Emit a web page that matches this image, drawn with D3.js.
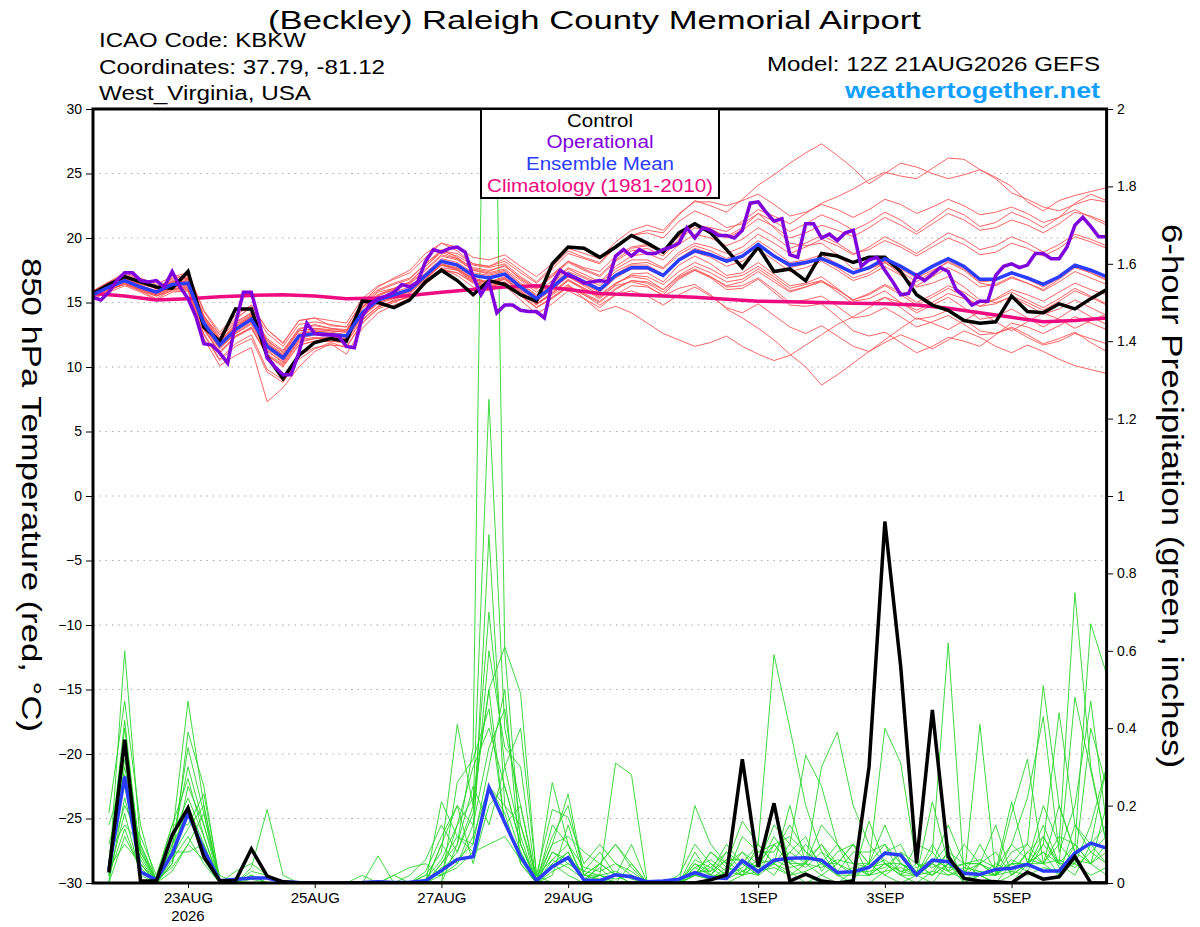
<!DOCTYPE html>
<html>
<head>
<meta charset="utf-8">
<title>KBKW GEFS 850 hPa temperature and precipitation</title>
<script src="https://cdn.jsdelivr.net/npm/d3@7.9.0/dist/d3.min.js"></script>
<style>
  body { margin: 0; background: #fff; }
  svg text { font-family: "Liberation Sans", Arial, Helvetica, sans-serif; }
</style>
</head>
<body>
<svg id="chart" width="1200" height="927"></svg>
<script>
// run start 12Z 21AUG2026; ensemble series are 6-hourly, operational is 3-hourly
const runStart = Date.UTC(2026, 7, 21, 12);
const HOUR = 3600 * 1000;

const tempTicks = [-30, -25, -20, -15, -10, -5, 0, 5, 10, 15, 20, 25, 30];
const precipTicks = [0, 0.2, 0.4, 0.6, 0.8, 1, 1.2, 1.4, 1.6, 1.8, 2];
const dateTicks = ["2026-08-23", "2026-08-25", "2026-08-27", "2026-08-29", "2026-09-01", "2026-09-03", "2026-09-05"];
const dateLabels = ["23AUG", "25AUG", "27AUG", "29AUG", "1SEP", "3SEP", "5SEP"];
const legendNames = ["Control", "Operational", "Ensemble Mean", "Climatology (1981-2010)"];

// 850 hPa temperature, deg C, every 6 h from 12Z 21 Aug
const controlTemp = [15.7,16.4,17.0,16.6,16.2,16.1,17.4,13.1,12.0,14.5,14.5,10.8,9.1,10.9,11.9,12.2,12.0,15.1,15.0,14.6,
  15.2,16.6,17.5,16.7,15.6,16.7,16.4,15.6,15.1,18.0,19.3,19.2,18.5,19.3,20.2,19.6,18.9,20.4,21.1,20.4,
  19.1,17.7,19.3,17.4,17.6,16.7,18.8,18.6,18.1,18.5,18.5,17.4,15.6,14.8,14.4,13.6,13.4,13.5,15.5,14.3,
  14.2,14.9,14.5,15.3,16.0];
const meanTemp = [15.6,16.2,16.7,16.2,15.8,16.4,16.5,13.4,11.7,12.9,13.7,11.6,10.7,12.4,12.6,12.5,12.4,14.2,15.2,15.6,
  16.0,17.1,18.2,17.9,17.1,16.9,17.2,16.2,15.3,16.2,17.2,16.6,16.0,17.1,17.7,17.7,17.1,18.3,19.0,18.7,
  18.2,18.6,19.5,18.6,17.9,18.1,18.4,17.9,17.3,17.7,18.4,17.8,17.1,17.8,18.4,17.8,16.8,16.8,17.3,16.9,
  16.4,17.0,17.9,17.5,17.0];
// operational, every 3 h
const operationalTemp = [15.4,15.2,15.8,16.7,17.3,17.3,16.7,16.6,16.7,16.2,
  17.4,16.2,15.3,13.9,11.8,11.7,11.1,10.3,13.4,15.8,
  15.8,13.5,10.7,10.0,9.4,9.4,11.1,13.4,12.6,12.5,
  12.5,12.4,11.6,11.5,13.9,14.9,15.3,15.5,15.8,16.4,
  16.2,16.6,18.2,19.1,18.9,19.2,19.3,18.9,17.0,15.6,
  16.6,14.2,14.8,14.8,14.4,14.3,14.3,13.8,16.5,17.5,
  17.1,16.9,16.5,16.6,16.7,16.6,18.6,19.1,18.6,19.1,
  18.8,18.8,19.1,19.3,19.6,20.8,20.0,20.8,20.6,20.2,
  20.2,20.0,20.6,22.7,22.8,22.0,21.3,21.5,18.7,18.5,
  21.1,21.1,20.0,20.3,19.8,20.4,20.6,17.8,18.3,18.5,
  17.5,16.6,15.6,15.7,17.1,16.7,17.2,17.7,17.4,16.0,
  15.5,14.8,15.1,15.1,17.1,17.8,18.0,17.7,17.9,18.8,
  18.8,18.4,18.4,19.3,21.0,21.6,20.9,20.1,20.1];
// climatology, every 12 h
const climoTemp = [15.7,15.5,15.2,15.3,15.45,15.55,15.6,15.5,15.3,15.35,15.55,15.8,16.0,16.2,16.3,16.0,15.7,
  15.6,15.5,15.4,15.25,15.1,15.05,15.0,14.95,14.9,14.8,14.55,14.2,13.85,13.5,13.6,13.8];

const memberTemps = [
  [15.8,16.5,17.2,16.8,16.0,16.9,17.1,14.0,12.2,13.5,14.2,12.0,11.2,12.9,13.3,13.0,12.8,14.8,15.9,16.4,16.8,18.0,19.1,18.5,17.6,17.4,17.9,16.8,16.0,17.0,18.1,17.5,17.0,18.2,19.0,19.2,18.6,19.9,20.8,20.5,20.0,20.6,21.5,20.9,20.0,20.4,21.0,20.6,20.1,20.8,21.6,21.0,20.3,21.1,21.9,21.4,20.6,20.8,21.4,21.0,20.4,21.1,22.0,21.7,21.2],
  [15.5,16.0,16.4,16.0,15.6,16.2,16.8,13.9,12.5,13.6,14.8,12.9,11.8,13.6,13.8,13.2,13.1,15.0,16.2,16.9,17.5,18.8,19.6,19.0,18.0,17.8,18.4,17.5,16.6,17.8,19.0,18.5,18.1,19.4,20.2,20.6,20.4,21.8,22.9,22.5,22.0,23.0,24.1,24.9,25.8,26.6,27.3,26.4,25.4,24.2,25.0,25.8,25.5,25.0,24.6,24.9,25.3,24.7,24.0,22.8,22.1,22.9,23.3,23.6,23.9],
  [15.7,16.3,16.8,16.4,16.1,16.6,16.9,13.7,12.0,13.1,14.0,11.9,11.0,12.8,13.0,12.8,12.7,14.6,15.8,16.1,16.6,17.8,18.9,18.4,17.7,17.5,17.8,16.9,16.1,17.2,18.2,17.7,17.4,18.6,19.3,19.5,19.0,20.1,21.0,20.8,20.5,21.3,22.2,21.7,21.1,21.9,22.7,23.2,23.8,24.5,25.1,24.8,24.6,25.4,26.2,26.1,25.3,24.6,23.5,23.0,22.4,22.1,22.6,23.0,22.8],
  [15.4,15.9,16.5,15.9,15.3,16.0,16.2,12.9,11.1,12.4,13.0,10.9,10.1,11.7,12.0,12.0,11.9,13.6,14.7,15.1,15.4,16.4,17.5,17.3,16.6,16.2,16.6,15.6,14.6,15.4,16.2,15.6,14.8,15.6,15.9,15.5,14.8,15.6,16.2,15.5,14.6,14.2,14.9,14.0,13.1,12.6,13.2,12.4,11.6,11.2,11.9,12.5,12.0,11.4,12.1,12.8,12.3,11.6,11.1,11.7,11.2,10.6,10.1,9.8,9.5],
  [15.6,16.1,16.6,16.1,15.7,16.3,16.4,13.2,11.5,12.6,13.4,11.3,10.3,12.0,12.2,12.2,12.1,13.9,15.0,15.4,15.8,16.9,18.0,17.6,16.8,16.5,16.9,15.9,14.9,15.8,16.8,16.1,15.4,16.3,16.6,16.3,15.5,16.1,16.4,15.6,14.5,13.8,13.0,12.1,11.0,10.0,8.6,9.4,10.3,11.2,12.1,13.0,13.8,13.4,12.9,13.6,14.3,13.5,12.8,13.5,14.2,13.7,13.0,13.6,14.1],
  [15.5,16.2,16.9,16.3,15.9,16.5,16.6,13.5,11.8,13.0,13.9,11.8,10.9,12.5,12.8,12.6,12.5,14.3,15.3,15.8,16.2,17.3,18.4,18.1,17.3,17.1,17.4,16.4,15.5,16.4,17.4,16.9,16.3,17.4,18.0,18.1,17.6,18.7,19.4,19.0,18.4,18.9,19.8,19.0,18.1,18.3,18.7,18.0,17.3,17.6,18.2,17.6,16.9,17.5,18.1,17.5,16.5,16.3,16.9,16.5,16.0,16.8,17.7,17.3,16.8],
  [15.9,16.6,17.0,16.4,15.5,15.9,15.9,12.2,10.1,10.9,11.5,7.3,8.4,10.0,11.2,11.8,11.0,13.0,14.2,14.8,15.3,16.5,17.6,17.1,16.2,15.9,16.3,15.2,14.1,14.9,15.9,15.3,14.6,15.6,16.3,16.2,15.6,16.8,17.5,17.0,16.3,16.6,17.4,16.6,15.8,16.2,16.6,16.0,15.2,15.7,16.4,15.8,15.0,15.6,16.3,15.8,15.0,15.2,15.8,15.2,14.6,15.3,16.1,15.5,14.9],
  [15.3,15.8,16.3,15.8,15.2,15.8,15.9,12.6,10.6,11.8,12.5,9.8,9.0,10.9,11.5,11.7,11.6,13.4,14.5,15.0,15.5,16.6,17.7,17.5,16.7,16.4,16.8,15.7,14.8,15.7,16.7,16.0,15.3,16.4,17.2,17.3,16.6,17.9,18.6,18.0,17.1,17.3,18.1,17.2,16.3,16.5,17.0,16.1,15.1,15.3,15.9,15.0,14.2,14.8,15.4,14.6,13.7,13.9,14.5,13.8,13.1,13.8,14.6,13.9,13.3],
  [15.8,16.4,17.1,16.6,16.2,16.8,17.2,14.3,12.5,13.8,14.6,12.6,11.6,13.3,13.5,13.3,13.1,15.0,16.0,16.5,16.9,18.0,19.0,18.6,17.9,17.7,18.0,17.0,16.2,17.1,18.2,17.6,17.1,18.3,19.2,19.4,18.9,20.2,21.0,20.7,20.1,20.8,21.9,21.3,20.5,21.1,21.8,21.3,20.6,21.2,22.0,21.4,20.5,21.4,22.3,21.8,20.9,21.2,22.0,21.5,20.8,21.6,22.7,23.4,22.9],
  [15.6,16.2,16.6,16.1,15.7,16.2,16.3,13.0,11.2,12.4,13.1,11.0,10.2,11.9,12.2,12.3,12.2,14.0,15.0,15.4,15.9,17.0,18.0,17.7,16.9,16.6,16.9,15.9,14.9,15.6,16.4,15.3,14.3,14.7,14.2,13.4,12.6,12.1,11.6,11.9,12.4,11.6,11.0,10.5,10.9,11.7,12.5,13.3,13.9,14.6,15.4,15.0,14.4,15.0,15.7,15.3,14.7,15.3,16.0,15.6,15.1,15.8,16.5,16.0,15.6],
  [15.7,16.3,16.9,16.5,16.1,16.7,16.9,13.9,12.3,13.4,14.2,12.2,11.3,13.0,13.2,13.0,12.9,14.7,15.6,16.0,16.4,17.5,18.6,18.3,17.5,17.3,17.6,16.7,15.8,16.7,17.7,17.2,16.6,17.8,18.6,18.8,18.3,19.5,20.3,20.0,19.4,19.9,20.8,20.1,19.2,19.6,20.2,19.6,18.8,19.1,19.8,19.3,18.6,19.3,20.0,19.5,18.7,18.9,19.6,19.2,18.6,19.2,20.1,19.7,19.2],
  [15.5,16.0,16.5,16.0,15.5,16.1,16.2,13.1,11.4,12.6,13.3,11.2,10.4,12.1,12.3,12.2,12.1,13.9,14.9,15.3,15.7,16.8,17.9,17.6,16.8,16.5,16.8,15.8,14.9,15.7,16.7,16.1,15.5,16.5,17.1,17.0,16.4,17.4,18.1,17.6,16.9,17.1,17.8,17.0,16.1,16.4,16.7,15.8,14.9,14.9,15.4,14.6,13.7,13.9,14.4,13.7,12.8,12.6,13.0,12.3,11.7,12.0,12.6,12.2,11.8],
  [15.6,16.3,16.8,16.3,15.9,16.5,16.7,13.6,11.9,13.1,13.9,11.8,10.8,12.5,12.8,12.7,12.5,14.3,15.2,15.6,16.0,17.1,18.2,17.9,17.1,16.9,17.2,16.2,15.3,16.2,17.2,16.6,16.0,17.2,17.9,17.9,17.2,18.4,19.2,18.8,18.1,18.5,19.4,18.6,17.7,18.0,18.4,17.7,16.9,17.3,18.1,17.4,16.6,17.4,18.2,17.6,16.6,16.7,17.3,16.8,16.2,16.9,17.8,17.3,16.7],
  [15.8,16.5,17.0,16.6,16.1,16.6,17.0,13.8,12.0,13.2,14.0,11.8,10.9,12.6,12.9,12.8,12.7,14.5,15.5,16.0,16.6,17.8,19.0,18.8,18.0,17.8,18.2,17.3,16.5,17.6,18.8,18.4,18.0,19.3,20.2,20.4,20.0,21.3,22.1,21.6,20.8,21.1,21.9,20.8,19.6,19.4,19.6,18.7,17.6,17.6,18.1,17.2,16.2,16.5,17.0,16.2,15.2,15.0,15.4,14.8,14.1,14.5,15.2,14.6,14.0],
  [15.5,16.1,16.6,16.0,15.6,16.2,16.3,13.2,11.5,12.7,13.5,11.4,10.5,12.2,12.5,12.4,12.3,14.1,15.1,15.5,15.9,16.9,17.9,17.5,16.6,16.3,16.6,15.6,14.6,15.4,16.3,15.7,15.1,16.1,16.7,16.5,15.8,16.9,17.5,16.9,16.0,16.1,16.8,15.8,14.8,14.7,14.9,13.9,12.8,12.4,12.7,11.9,11.1,11.6,12.3,12.0,11.6,12.5,13.4,13.1,12.6,13.2,13.9,13.4,12.9],
  [15.7,16.2,16.7,16.2,15.9,16.6,16.8,13.8,12.1,13.3,14.1,12.1,11.1,12.8,13.0,12.9,12.8,14.6,15.6,16.1,16.5,17.6,18.7,18.4,17.5,17.2,17.5,16.5,15.6,16.5,17.6,17.0,16.5,17.6,18.3,18.3,17.7,18.9,19.6,19.3,18.8,19.3,20.3,19.6,18.8,19.3,19.9,19.4,18.7,19.3,20.1,19.5,18.8,19.6,20.4,19.9,19.1,19.4,20.1,19.6,18.9,19.5,20.3,19.9,19.4],
  [15.6,16.3,16.9,16.3,15.7,16.1,16.0,12.5,10.5,11.6,12.2,9.6,8.8,10.6,11.4,11.9,11.5,13.4,14.6,15.2,15.7,16.8,17.9,17.6,16.8,16.6,17.0,16.0,15.1,16.0,17.0,16.4,15.8,16.9,17.6,17.6,17.0,18.2,18.9,18.5,17.8,18.2,19.1,18.3,17.4,17.7,18.2,17.5,16.7,17.1,17.8,17.1,16.3,17.0,17.7,17.1,16.2,16.4,17.0,16.5,15.9,16.6,17.4,16.9,16.4],
  [15.4,16.0,16.4,15.9,15.5,16.0,16.1,12.9,11.1,12.3,13.0,10.9,10.0,11.7,12.0,12.0,11.9,13.7,14.7,15.1,15.5,16.6,17.6,17.3,16.5,16.2,16.5,15.5,14.6,15.3,16.2,15.6,15.0,16.0,16.7,16.6,16.0,17.1,17.8,17.3,16.6,16.8,17.6,16.8,15.9,16.2,16.7,16.0,15.2,15.6,16.3,15.6,14.8,15.4,16.1,15.5,14.7,14.9,15.5,15.0,14.4,15.1,15.9,15.4,14.8],
  [15.9,16.6,17.3,16.9,16.4,17.0,17.3,14.4,12.7,14.0,14.8,12.9,11.9,13.6,13.8,13.6,13.4,15.3,16.3,16.8,17.3,18.5,19.6,19.3,18.5,18.3,18.7,17.8,17.0,18.0,19.2,18.8,18.4,19.7,20.6,21.0,20.6,21.9,22.8,22.8,22.5,22.9,23.4,22.6,21.7,22.0,22.6,22.2,21.6,22.2,23.0,22.6,21.9,22.4,23.0,22.5,21.8,22.0,22.4,21.9,21.2,21.6,22.2,21.6,21.0],
  [15.6,16.2,16.7,16.2,15.8,16.4,16.5,13.4,11.7,12.9,13.7,11.6,10.7,12.4,12.6,12.5,12.4,14.2,15.2,15.6,16.0,17.1,18.2,17.9,17.1,16.9,17.2,16.2,15.3,16.1,17.0,16.3,15.6,16.5,17.0,16.8,16.0,17.0,17.6,17.0,16.2,16.3,16.9,16.0,15.0,15.2,15.5,14.7,13.8,14.0,14.6,13.9,13.1,13.5,14.0,13.3,12.5,12.6,13.1,12.5,11.8,12.2,12.7,11.9,11.2]
];

// 6-hour precipitation, inches, periods ending 18Z 21 Aug .. 12Z 6 Sep
const controlPrecip = [0.027,0.37,0.005,0.005,0.124,0.194,0.068,0.006,0.006,0.088,0.018,0.003,0,0,0,0,0,0,0,0,
  0,0,0,0,0,0,0,0,0,0,0,0,0,0,0,0,0,0,0.008,0.021,
  0.32,0.042,0.206,0.005,0.023,0.005,0,0.005,0.30,0.934,0.559,0.051,0.447,0.068,0.012,0.005,0.003,0,0.028,0.01,
  0.016,0.068,0,0];
const meanPrecip = [0.034,0.275,0.029,0.008,0.075,0.18,0.085,0.006,0.01,0.013,0.013,0.003,0.001,0,0,0,0.001,0.003,0.001,0.002,
  0.006,0.032,0.061,0.068,0.247,0.156,0.068,0.006,0.042,0.066,0.008,0.006,0.021,0.016,0.003,0.005,0.01,0.027,0.014,0.012,
  0.058,0.029,0.059,0.064,0.065,0.059,0.027,0.029,0.04,0.077,0.072,0.021,0.059,0.055,0.025,0.022,0.035,0.038,0.048,0.031,
  0.031,0.077,0.103,0.09];
const memberPrecip = [
  [.02,.60,.10,0,.08,.20,.10,0, 0,.02,0,0,0,0,0,0, 0,0,0,0,0,.05,.10,.35, 3.20,.60,.10,0,.05,.02,0,0, 0,0,0,0,0,.02,.04,.01, .03,.02,.10,.05,.02,0,0,.01, .05,.10,.02,0,.03,.08,0,.02, 0,.02,.08,.12,.05,.02,.10,.30],
  [.18,.47,.15,0,.12,.47,.20,0, 0,0,0,0,0,0,0,0, 0,0,0,0,.02,.08,.41,.20, .50,.61,.49,.02,0,0,0,.02, .31,.28,0,0,0,0,0,0, .02,.05,.02,.08,.05,.02,0,.03, .05,.02,0,.02,.05,.10,0,.05, .02,.08,.10,.51,.20,.08,.05,.02],
  [.05,.42,.05,0,.05,.39,.25,0, .03,.05,.02,0,0,0,0,0, 0,.07,0,0,0,.21,.12,.10, .90,.20,.08,0,.26,.10,0,.05, .10,.05,0,0,0,.02,.08,.05, .16,.10,.05,.03,0,.02,.05,.10, .02,.05,.03,.02,0,.05,.02,.10, .03,.21,.05,.10,.44,.15,.08,.05],
  [0,.35,.08,0,.10,.30,.15,.02, 0,.04,.19,.02,0,0,0,0, .02,0,.02,0,0,0,.26,.32, .45,.15,.20,.01,.10,.23,.02,.05, .02,.10,0,0,0,.05,.02,.08, .05,.10,.59,.40,.20,.08,.02,0, 0,.03,.08,.02,.05,.03,.01,.02, 0,0,.05,.20,.10,.75,.30,.10],
  [.03,.30,.08,.01,.15,.27,.12,0, 0,.02,0,0,0,0,0,0, 0,0,0,.02,.06,.15,.08,.20, 1.25,.40,.20,0,.05,.08,0,.02, 0,0,0,0,0,.20,.10,.05, .08,.05,.15,.10,.33,.25,.10,.05, .05,.40,.31,.05,.02,.05,0,.02, 0,.05,.10,.05,.02,.10,.67,.54],
  [.10,.25,.05,0,.05,.20,.08,0, 0,.03,.02,0,0,0,0,0, 0,0,0,0,0,.10,.05,.15, .35,.45,.15,.02,.19,.17,.05,.10, .05,.02,0,0,.02,.10,.05,.02, .12,.08,.10,.05,.05,.30,.39,.20, .10,.05,.02,.10,.08,.62,.02,.05, .02,.05,.03,.10,.05,.48,.29,.10],
  [.06,.20,.12,.02,.15,.15,.23,.01, 0,0,0,0,0,0,0,0, 0,0,.02,.04,.05,.02,.15,.30, .40,.25,.10,0,.10,.12,.08,.05, .02,0,0,0,0,.05,.03,.10, .05,.02,.20,.05,.10,.05,.02,.02, .16,.05,.02,.02,.21,.05,.01,.41, .02,.10,.22,.43,.08,.20,.47,.15],
  [.02,.18,.02,0,.06,.12,.05,0, 0,.02,0,0,0,0,0,0, 0,0,0,0,.03,.12,.20,.05, .20,.25,.10,.01,.12,.20,.02,.02, 0,.05,0,0,.01,.02,.08,.04, .03,.05,.10,.12,.08,.05,.05,.10, .05,.15,.05,.02,.10,.03,.05,.02, .02,.18,.32,.05,.12,.10,.05,.08],
  [.08,.15,.10,.01,.04,.10,.18,0, 0,0,0,0,0,0,0,0, 0,0,0,0,0,.04,.06,.10, .30,.50,.05,0,.08,.05,.03,.08, .02,.02,0,0,0,.08,.02,.06, .02,.10,.05,.20,.05,.10,.05,.02, .02,.08,.10,.02,.05,.15,.05,.05, .03,.05,.05,.15,.05,.10,.05,.20],
  [0,.12,.04,0,.08,.08,.10,0, 0,0,0,0,0,0,0,0, 0,0,0,0,0,0,.10,.25, .15,.30,.40,.02,.06,.10,.04,.03, .05,.03,0,0,0,.02,.05,.02, .05,.02,.05,.02,.05,.15,.10,.05, .02,.05,.02,.05,.02,.08,.05,.05, .02,.05,.05,.05,.20,.08,.10,.15],
  [.04,.10,.05,0,.10,.18,.08,0, 0,0,0,0,0,0,0,0, 0,0,0,0,.02,.02,.05,.12, .25,.18,.05,0,.02,.15,.02,.05, .10,.04,0,0,0,.02,.01,.03, .08,.03,.05,.08,.12,.03,.08,.10, .05,.02,.05,.03,.05,.02,.03,.05, .08,.02,.05,.08,.02,.15,.10,.05],
  [.15,.28,.03,0,.05,.25,.15,0, 0,.01,0,0,0,0,0,0, 0,0,0,0,0,.10,.20,.15, .60,.35,.30,0,.04,.08,0,.01, .02,0,0,0,0,.04,.02,.02, .04,.08,.08,.15,.08,.05,.10,.02, .04,.05,.05,.02,.08,.03,.10,.05, .15,.02,.05,.08,.05,.05,.40,.25],
  [.03,.40,.07,0,.12,.22,.12,0, 0,0,0,0,0,0,0,0, 0,0,0,0,0,.03,.08,.18, .70,.30,.12,0,.15,.10,.01,.04, 0,0,0,0,0,.06,.04,.08, .03,.06,.05,.10,.06,.10,.03,.08, .08,.10,.05,.03,.02,.05,.03,.02, .05,.03,.08,.05,.10,.05,.15,.30],
  [0,.22,.06,0,.07,.14,.20,0, 0,0,0,0,0,0,0,0, 0,0,0,0,0,.05,.12,.08, .25,.20,.15,0,.08,.06,.03,.02, .01,.02,0,0,0,.03,.03,.06, .06,.04,.12,.06,.04,.08,.05,.03, .03,.04,.08,.05,.04,.06,.02,.03, .02,.06,.04,.12,.04,.06,.05,.10],
  [.05,.32,.09,0,.09,.35,.18,0, 0,0,0,0,0,0,0,0, 0,0,0,0,.01,.06,.15,.22, .50,.15,.08,0,.06,.04,.01,.02, .03,.01,0,0,0,.04,.06,.03, .02,.05,.06,.04,.05,.04,.06,.05, .04,.06,.03,.04,.06,.04,.05,.06, .04,.10,.06,.05,.06,.04,.08,.12],
  [.02,.14,.03,0,.03,.10,.06,0, 0,0,0,0,0,0,0,0, 0,0,0,0,0,.02,.04,.08, .10,.12,.06,0,.03,.05,.02,.01, 0,0,0,0,0,.02,.01,.04, .02,.03,.04,.02,.03,.05,.02,.04, .02,.03,.04,.02,.03,.02,.04,.03, .02,.03,.02,.04,.03,.05,.02,.04]
];

const svg = d3.select('#chart');
const plot = { left: 93, right: 1106.6, top: 109, bottom: 883 };

const xScale = d3.scaleUtc()
  .domain([new Date(runStart), new Date(runStart + 384 * HOUR)])
  .range([plot.left, plot.right]);
const tempScale = d3.scaleLinear().domain([-30, 30]).range([plot.bottom, plot.top]);
const precipScale = d3.scaleLinear().domain([0, 2]).range([plot.bottom, plot.top]);

const timeAt = (step, offset) => (d, i) => xScale(new Date(runStart + (i + offset) * step * HOUR));
const tempLine = (step, offset = 0) => d3.line().x(timeAt(step, offset)).y(d => tempScale(d));
const precipLine = d3.line().x(timeAt(6, 1)).y(d => precipScale(d));

svg.append('defs').append('clipPath').attr('id', 'plot-clip')
  .append('rect')
  .attr('x', plot.left).attr('y', plot.top)
  .attr('width', plot.right - plot.left).attr('height', plot.bottom - plot.top);

// dotted grid on the temperature ticks
svg.append('g')
  .selectAll('line')
  .data(tempTicks.filter(t => t > -30 && t < 30))
  .join('line')
  .attr('x1', plot.left).attr('x2', plot.right)
  .attr('y1', d => tempScale(d)).attr('y2', d => tempScale(d))
  .attr('stroke', '#a8a8a8')
  .attr('stroke-width', 1.2)
  .attr('stroke-dasharray', '1.5,4.8');

const lines = svg.append('g').attr('clip-path', 'url(#plot-clip)');

lines.append('g')
  .selectAll('path')
  .data(memberPrecip)
  .join('path')
  .attr('d', precipLine)
  .attr('fill', 'none')
  .attr('stroke', '#2ad52a')
  .attr('stroke-width', 0.9);

lines.append('g')
  .selectAll('path')
  .data(memberTemps)
  .join('path')
  .attr('d', tempLine(6))
  .attr('fill', 'none')
  .attr('stroke', '#ff5252')
  .attr('stroke-width', 0.9);

lines.append('path').datum(meanPrecip)
  .attr('d', precipLine)
  .attr('fill', 'none').attr('stroke', '#2a3cff').attr('stroke-width', 3.5);

lines.append('path').datum(controlPrecip)
  .attr('d', precipLine)
  .attr('fill', 'none').attr('stroke', '#000').attr('stroke-width', 3.5);

lines.append('path').datum(climoTemp)
  .attr('d', tempLine(12))
  .attr('fill', 'none').attr('stroke', '#ee0a80').attr('stroke-width', 3.5);

lines.append('path').datum(controlTemp)
  .attr('d', tempLine(6))
  .attr('fill', 'none').attr('stroke', '#000').attr('stroke-width', 3.5);

lines.append('path').datum(meanTemp)
  .attr('d', tempLine(6))
  .attr('fill', 'none').attr('stroke', '#2a3cff').attr('stroke-width', 3.5);

lines.append('path').datum(operationalTemp)
  .attr('d', tempLine(3))
  .attr('fill', 'none').attr('stroke', '#8000dd').attr('stroke-width', 3.5);

// axes
const leftAxis = svg.append('g')
  .attr('transform', `translate(${plot.left - 1},0)`)
  .call(d3.axisLeft(tempScale).tickValues(tempTicks).tickSize(6).tickPadding(4));
const rightAxis = svg.append('g')
  .attr('transform', `translate(${plot.right + 1.5},0)`)
  .call(d3.axisRight(precipScale).tickValues(precipTicks).tickSize(5).tickPadding(4).tickFormat(d => String(d)));
const bottomAxis = svg.append('g')
  .attr('transform', `translate(0,${plot.bottom + 1})`)
  .call(d3.axisBottom(xScale)
    .tickValues(dateTicks.map(d => new Date(d + 'T00:00Z')))
    .tickSize(4)
    .tickFormat((d, i) => dateLabels[i]));

[leftAxis, rightAxis, bottomAxis].forEach(g => {
  g.select('.domain').remove();
  g.attr('font-size', 14).attr('font-family', null);
  g.selectAll('text').attr('fill', '#000');
});
bottomAxis.attr('font-size', 15);
bottomAxis.selectAll('text').attr('dy', null).attr('y', 19);
bottomAxis.append('text')
  .attr('x', xScale(new Date(dateTicks[0] + 'T00:00Z')))
  .attr('y', 37)
  .attr('text-anchor', 'middle')
  .attr('fill', '#000')
  .text('2026');

// frame
svg.append('rect')
  .attr('x', plot.left).attr('y', plot.top)
  .attr('width', plot.right - plot.left).attr('height', plot.bottom - plot.top)
  .attr('fill', 'none').attr('stroke', '#000').attr('stroke-width', 3);

// legend box
const legend = svg.append('g');
legend.append('rect')
  .attr('x', 481).attr('y', 109).attr('width', 238).attr('height', 89)
  .attr('fill', '#fff').attr('stroke', '#000').attr('stroke-width', 2);
const legendColors = ['#000', '#8000dd', '#2a3cff', '#ee0a80'];
const legendWidths = [66, 107, 148, 226];
legend.selectAll('text.item')
  .data(legendNames)
  .join('text')
  .attr('class', 'item')
  .attr('x', 600)
  .attr('y', (d, i) => 126.5 + i * 21.7)
  .attr('text-anchor', 'middle')
  .attr('font-size', 17.5)
  .attr('textLength', (d, i) => legendWidths[i])
  .attr('lengthAdjust', 'spacingAndGlyphs')
  .attr('fill', (d, i) => legendColors[i])
  .text(d => d);

// titles and header text
function addText(x, y, size, width, str, opts = {}) {
  return svg.append('text')
    .attr('x', x).attr('y', y)
    .attr('font-size', size)
    .attr('text-anchor', opts.anchor || 'start')
    .attr('font-weight', opts.weight || 'normal')
    .attr('fill', opts.color || '#000')
    .attr('textLength', width)
    .attr('lengthAdjust', 'spacingAndGlyphs')
    .attr('transform', opts.transform || null)
    .text(str);
}

addText(268, 29, 26.5, 653, '(Beckley) Raleigh County Memorial Airport');
addText(99, 47, 20, 207, 'ICAO Code: KBKW');
addText(99, 74, 20, 286, 'Coordinates: 37.79, -81.12');
addText(99, 100, 20, 212, 'West_Virginia, USA');
addText(1100, 71, 20, 333, 'Model: 12Z 21AUG2026 GEFS', { anchor: 'end' });
addText(1100, 97.5, 22, 255, 'weathertogether.net', { anchor: 'end', weight: 'bold', color: '#12a0ff' });

addText(0, 0, 28, 474, '850 hPa Temperature (red, °C)', { transform: 'translate(22,258) rotate(90)' });
addText(0, 0, 29, 544, '6-hour Precipitation (green, inches)', { transform: 'translate(1162,224) rotate(90)' });
</script>
</body>
</html>
